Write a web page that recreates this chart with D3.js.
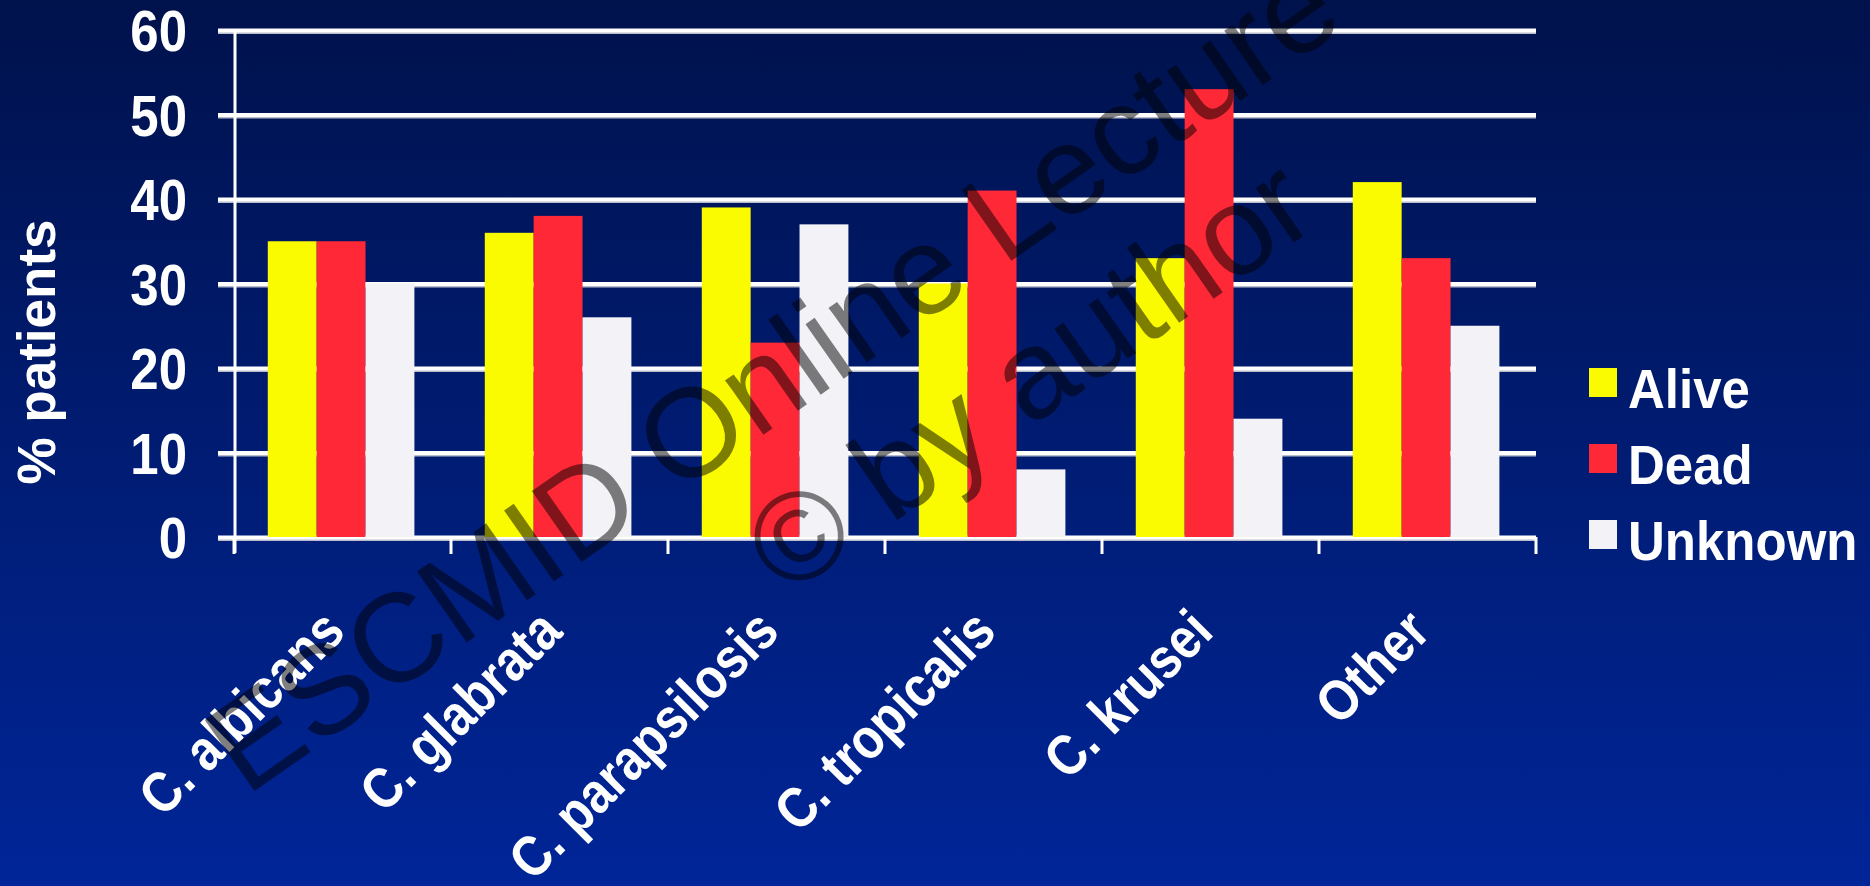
<!DOCTYPE html>
<html><head><meta charset="utf-8">
<script src="https://cdn.jsdelivr.net/npm/d3@7"></script>
<style>html,body{margin:0;padding:0;overflow:hidden;background:#001a70}</style>
</head><body>
<svg id="chart" width="1870" height="886"></svg>
<script>
const categories = ["C. albicans","C. glabrata","C. parapsilosis","C. tropicalis","C. krusei","Other"];
const seriesNames = ["Alive","Dead","Unknown"];
const alive = [35,36,39,30,33,42];
const dead = [35,38,23,41,53,33];
const unknown = [30,26,37,8,14,25];
const yTicks = [0,10,20,30,40,50,60];
const yTitle = "% patients";
const watermarkLines = ["ESCMID Online Lecture","\u00a9 by author"];

const seriesValues = {Alive: alive, Dead: dead, Unknown: unknown};
const colors = {Alive:"#FAFA00", Dead:"#FF2836", Unknown:"#F2F2F7"};
const FONT = "'Liberation Sans', Arial, Helvetica, sans-serif";

const W = 1870, H = 886;
const svg = d3.select("#chart");

// background gradient
const defs = svg.append("defs");
const grad = defs.append("linearGradient").attr("id","bg").attr("x1",0).attr("y1",0).attr("x2",0).attr("y2",1);
grad.append("stop").attr("offset","0%").attr("stop-color","#00124C");
grad.append("stop").attr("offset","100%").attr("stop-color","#002598");
svg.append("rect").attr("width",W).attr("height",H).attr("fill","url(#bg)");

const plotLeft = 234, plotRight = 1536, plotTop = 30, plotBottom = 537;
const x0 = d3.scaleBand().domain(categories).range([plotLeft, plotRight]).padding(0);
const x1 = d3.scaleBand().domain(seriesNames).range([0, x0.bandwidth()]).paddingInner(0).paddingOuter(0.72).align(0.48);
const y = d3.scaleLinear().domain([0,60]).range([plotBottom, plotTop]);

// gridlines + tick labels
const gridAxis = d3.axisLeft(y).tickValues(yTicks).tickSize(-(plotRight - 218)).tickPadding(31).tickFormat(d3.format("d"));
const gAxis = svg.append("g").attr("transform","translate(218,0)").call(gridAxis);
gAxis.select(".domain").remove();
gAxis.selectAll(".tick").insert("line", ":first-child")
  .attr("x2", plotRight - 218).attr("y1", 2).attr("y2", 2)
  .attr("stroke","#b8bccc").attr("stroke-width",3);
gAxis.selectAll(".tick line:last-of-type").attr("stroke","#ffffff").attr("stroke-width",4);
gAxis.selectAll(".tick text")
  .attr("fill","#ffffff").attr("font-family",FONT).attr("font-weight","bold").attr("font-size",51)
  .attr("dy","0.36em").attr("transform","scale(1,1.12)");

// y axis line
svg.append("line").attr("x1",235).attr("x2",235).attr("y1",y(60)).attr("y2",y(0)+16)
  .attr("stroke","#ffffff").attr("stroke-width",3);

// x axis ticks at category boundaries
const boundaries = categories.map(c => x0(c)).concat([x0.range()[1]]);
svg.append("g").selectAll("line").data(boundaries).join("line")
  .attr("x1",d=>d).attr("x2",d=>d).attr("y1",y(0)).attr("y2",y(0)+17)
  .attr("stroke","#ffffff").attr("stroke-width",3);

// bars
const groups = svg.append("g").selectAll("g").data(categories).join("g")
  .attr("transform", c => `translate(${x0(c)},0)`);
groups.selectAll("rect").data((c,i) => seriesNames.map(s => ({s, v: seriesValues[s][i]}))).join("rect")
  .attr("x", d => x1(d.s)).attr("width", x1.bandwidth())
  .attr("y", d => y(d.v)).attr("height", d => y(0) - y(d.v))
  .attr("fill", d => colors[d.s]);

// x labels
svg.append("g").selectAll("text").data(categories).join("text")
  .attr("transform", c => `translate(${x0(c) + x0.bandwidth()/2 + 5},634) rotate(-45) scale(0.97,1.12)`)
  .attr("text-anchor","end")
  .attr("fill","#ffffff").attr("font-family",FONT).attr("font-weight","bold").attr("font-size",51)
  .text(c => c);

// y title
svg.append("text").attr("transform","translate(55,352) rotate(-90)")
  .attr("text-anchor","middle").attr("fill","#ffffff").attr("font-family",FONT)
  .attr("font-weight","bold").attr("font-size",53).text(yTitle);

// legend
const leg = svg.append("g").selectAll("g").data(seriesNames).join("g")
  .attr("transform",(d,i)=>`translate(1589,${368 + i*76})`);
leg.append("rect").attr("width",28).attr("height",29).attr("fill",d=>colors[d]);
leg.append("text").attr("transform","translate(39,40) scale(1,1.1)")
  .attr("fill","#ffffff").attr("font-family",FONT).attr("font-weight","bold").attr("font-size",51)
  .text(d=>d);

// watermark
const wmPos = [[246,797],[786,598]];
svg.append("g").selectAll("text").data(watermarkLines).join("text")
  .attr("transform",(d,i)=>`translate(${wmPos[i][0]},${wmPos[i][1]}) rotate(-35)`)
  .attr("fill","#000000").attr("fill-opacity",0.5)
  .attr("font-family",FONT).attr("font-size",126)
  .text(d=>d);
</script>
</body></html>
